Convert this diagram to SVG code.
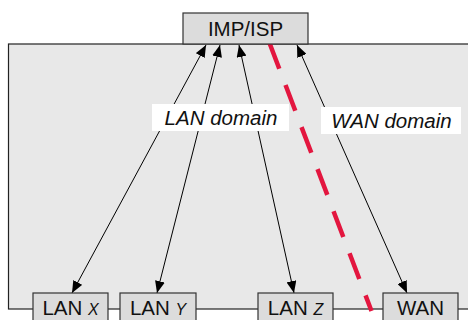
<svg xmlns="http://www.w3.org/2000/svg" width="468" height="320" viewBox="0 0 468 320">
<defs>
<style>
.box{fill:#dcdcdc;stroke:#333;stroke-width:1.2}
.t{font-family:"Liberation Sans",Arial,sans-serif;font-size:20.5px;fill:#111;text-anchor:middle}
.i{font-style:italic;font-size:16px}
.c{stroke:#000;stroke-width:1;fill:none;marker-start:url(#ah);marker-end:url(#ah)}
.lbl{fill:#fff}
</style>
<marker id="ah" viewBox="0 0 12 10" refX="12" refY="5" markerWidth="12" markerHeight="10" markerUnits="userSpaceOnUse" orient="auto-start-reverse">
<path d="M0,0 L12,5 L0,10 z" fill="#000"/>
</marker>
</defs>
<rect x="8.5" y="44" width="470" height="265" fill="#e8e8e8" stroke="#222" stroke-width="1.2"/>
<g id="connectors">
<line class="c" x1="206" y1="45" x2="72" y2="293"/>
<line class="c" x1="220" y1="45" x2="157" y2="293"/>
<line class="c" x1="239" y1="45" x2="294" y2="293"/>
<line class="c" x1="297" y1="45" x2="407" y2="293"/>
</g>
<line id="boundary" x1="269.5" y1="43" x2="371.5" y2="311" stroke="#e3163f" stroke-width="4.5" stroke-dasharray="27.5 17.5"/>
<g id="lan-domain">
<rect class="lbl" x="152" y="104" width="137" height="27"/>
<text class="t" x="221" y="124.5" font-style="italic">LAN domain</text>
</g>
<g id="wan-domain">
<rect class="lbl" x="321" y="107" width="140" height="27"/>
<text class="t" x="391.5" y="127.5" font-style="italic">WAN domain</text>
</g>
<g id="imp-isp">
<rect class="box" x="183" y="13" width="125" height="31"/>
<text class="t" x="245.5" y="36">IMP/ISP</text>
</g>
<g id="lan-x">
<rect class="box" x="33" y="293" width="75" height="40"/>
<text class="t" x="70.5" y="315">LAN <tspan class="i">X</tspan></text>
</g>
<g id="lan-y">
<rect class="box" x="120" y="293" width="76" height="40"/>
<text class="t" x="158" y="315">LAN <tspan class="i">Y</tspan></text>
</g>
<g id="lan-z">
<rect class="box" x="258" y="293" width="75" height="40"/>
<text class="t" x="295.5" y="315">LAN <tspan class="i">Z</tspan></text>
</g>
<g id="wan">
<rect class="box" x="383" y="293" width="75" height="40"/>
<text class="t" x="420.5" y="315">WAN</text>
</g>
</svg>
